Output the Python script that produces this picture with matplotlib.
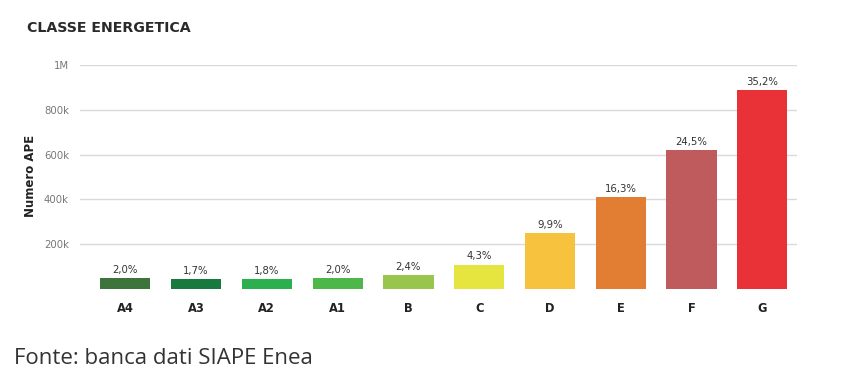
import numpy as np
import matplotlib
matplotlib.use('Agg')
import matplotlib.pyplot as plt
from matplotlib.ticker import FixedLocator

# dati
classi = ['A4', 'A3', 'A2', 'A1', 'B', 'C', 'D', 'E', 'F', 'G']
numero_ape = [50600, 43000, 45500, 50600, 61000, 109000, 250000, 412000, 620000, 890000]
percentuali = ['2,0%', '1,7%', '1,8%', '2,0%', '2,4%', '4,3%', '9,9%', '16,3%', '24,5%', '35,2%']
colori = ['#3d743b', '#18793f', '#2cb04f', '#4db849', '#98c54b', '#e6e43e',
          '#f7c23e', '#e17e33', '#c05b5d', '#e93237']
tick_valori = [200000, 400000, 600000, 800000, 1000000]
tick_etichette = ['200k', '400k', '600k', '800k', '1M']

plt.rcParams['font.family'] = ['DejaVu Sans']

fig = plt.figure(figsize=(8.6, 3.78), dpi=100)
ax = fig.add_axes([80 / 860, 1 - 289 / 378, 717 / 860, 224 / 378])

x = np.arange(len(classi))
ax.bar(x, numero_ape, width=0.71, color=colori, zorder=3)

for xi, v, p in zip(x, numero_ape, percentuali):
    ax.text(xi, v + 14000, p, ha='center', va='bottom', fontsize=7.3, color='#333333')

ax.set_xlim(-0.64, 9.49)
ax.set_ylim(0, 1000000)
ax.yaxis.set_major_locator(FixedLocator(tick_valori))
ax.set_yticklabels(tick_etichette, fontsize=7.3, color='#777777')
ax.set_xticks(x)
ax.set_xticklabels(classi, fontsize=8.3, fontweight='bold', color='#222222')
ax.tick_params(axis='both', length=0)
ax.tick_params(axis='y', pad=8)
ax.tick_params(axis='x', pad=9)
ax.grid(axis='y', color='#d9d9d9', linewidth=1, zorder=0)
for s in ax.spines.values():
    s.set_visible(False)

fig.text(30 / 860, 1 - 176 / 378, 'Numero APE', rotation=90, ha='center', va='center',
         fontsize=8.5, fontweight='bold', color='#222222')
fig.text(27 / 860, 1 - 28 / 378, 'CLASSE ENERGETICA', ha='left', va='center',
         fontsize=10.2, fontweight='bold', color='#2a2a2a')
fig.text(14 / 860, 1 - 358 / 378, 'Fonte: banca dati SIAPE Enea', ha='left', va='center',
         fontsize=16, color='#333333', family=['Open Sans', 'DejaVu Sans'])

fig.savefig('out.png', dpi=100)
